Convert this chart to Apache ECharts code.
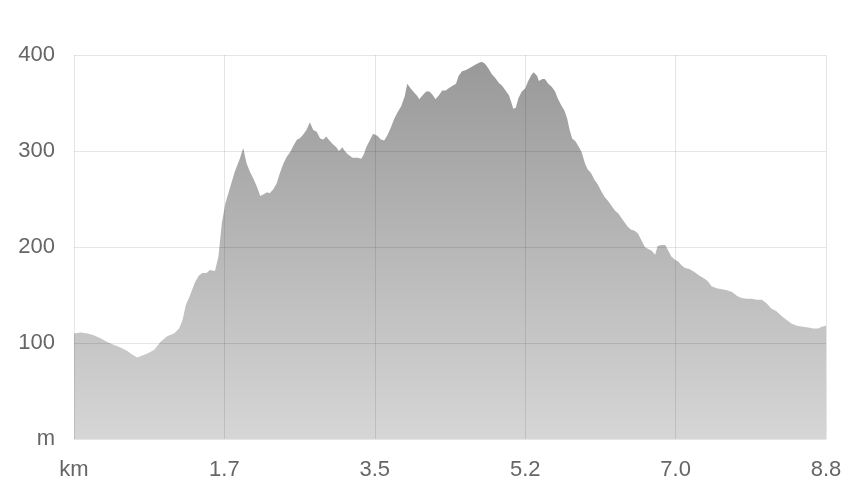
<!DOCTYPE html>
<html>
<head>
<meta charset="utf-8">
<script src="https://cdn.jsdelivr.net/npm/echarts@6/dist/echarts.min.js"></script>
<style>
  html, body { margin: 0; padding: 0; background: #fff; }
  #chart { width: 854px; height: 494px; }
</style>
</head>
<body>
<div id="chart"></div>
<script>
// distance along the route (km) and elevation (m)
const distKm = [
  0.00, 0.08, 0.16, 0.23, 0.31, 0.39, 0.47, 0.55, 0.62, 0.68, 0.74, 0.80, 0.86, 0.94, 1.01, 1.09,
  1.17, 1.23, 1.27, 1.31, 1.35, 1.38, 1.42, 1.46, 1.50, 1.55, 1.59, 1.65, 1.69, 1.73, 1.77, 1.83,
  1.88, 1.94, 1.98, 2.02, 2.06, 2.10, 2.14, 2.18, 2.22, 2.26, 2.29, 2.33, 2.37, 2.41, 2.45, 2.49,
  2.53, 2.57, 2.61, 2.64, 2.68, 2.72, 2.76, 2.80, 2.84, 2.88, 2.92, 2.95, 2.99, 3.03, 3.07, 3.10,
  3.14, 3.16, 3.20, 3.26, 3.32, 3.36, 3.39, 3.42, 3.46, 3.50, 3.52, 3.55, 3.59, 3.63, 3.67, 3.71,
  3.75, 3.79, 3.83, 3.87, 3.90, 3.94, 3.98, 4.02, 4.04, 4.08, 4.12, 4.16, 4.20, 4.23, 4.27, 4.31,
  4.35, 4.38, 4.43, 4.47, 4.50, 4.54, 4.58, 4.62, 4.66, 4.70, 4.74, 4.77, 4.81, 4.85, 4.89, 4.93,
  4.97, 5.01, 5.05, 5.09, 5.12, 5.14, 5.17, 5.20, 5.24, 5.28, 5.31, 5.35, 5.38, 5.42, 5.44, 5.48,
  5.51, 5.55, 5.59, 5.63, 5.66, 5.70, 5.74, 5.77, 5.80, 5.83, 5.87, 5.91, 5.94, 5.98, 6.01, 6.05,
  6.09, 6.13, 6.17, 6.21, 6.25, 6.29, 6.33, 6.37, 6.40, 6.44, 6.48, 6.52, 6.56, 6.60, 6.64, 6.68,
  6.72, 6.76, 6.80, 6.83, 6.87, 6.92, 6.95, 6.99, 7.03, 7.07, 7.11, 7.15, 7.20, 7.26, 7.32, 7.38,
  7.42, 7.46, 7.52, 7.58, 7.64, 7.70, 7.76, 7.81, 7.87, 7.93, 7.99, 8.05, 8.11, 8.16, 8.22, 8.28,
  8.34, 8.40, 8.46, 8.53, 8.61, 8.65, 8.67, 8.71, 8.75, 8.80
];
const elevM = [
  110, 111, 110, 108, 105, 101, 98, 95, 92, 88, 85, 87, 89, 93, 101, 107,
  110, 115, 124, 140, 148, 155, 164, 170, 173, 173, 176, 175, 190, 225, 245, 263,
  278, 292, 303, 287, 278, 271, 263, 253, 255, 257, 256, 260, 266, 277, 287, 294,
  299, 306, 312, 313, 317, 322, 330, 322, 320, 313, 312, 315, 311, 307, 304, 300,
  304, 301, 297, 293, 293, 292, 296, 304, 311, 318, 319, 316, 312, 311, 317, 325,
  334, 341, 347, 357, 370, 365, 361, 357, 354, 358, 362, 362, 358, 354, 358, 363,
  363, 365, 368, 370, 378, 383, 384, 386, 388, 390, 392, 393, 391, 386, 380, 376,
  371, 368, 363, 358, 350, 344, 345, 355, 362, 365, 372, 379, 382, 378, 373, 375,
  375, 370, 367, 362, 355, 348, 342, 334, 322, 313, 310, 304, 299, 287, 281, 277,
  270, 265, 258, 252, 248, 243, 238, 235, 231, 226, 221, 218, 217, 214, 207, 200,
  198, 196, 192, 201, 202, 202, 197, 190, 187, 185, 181, 178, 177, 174, 170, 167,
  164, 159, 157, 156, 155, 153, 149, 147, 146, 146, 145, 145, 141, 136, 133, 128,
  124, 120, 118, 117, 116, 115, 113, 115, 117, 118
];
const xTickLabels = ['km', '1.7', '3.5', '5.2', '7.0', '8.8'];
const yTickLabels = ['m', '100', '200', '300', '400'];

const chart = echarts.init(document.getElementById('chart'));

const labelFont = {
  color: '#666',
  fontSize: 22,
  fontFamily: '"Liberation Sans", Arial, sans-serif'
};

const option = {
  animation: false,
  grid: {
    left: 74,
    right: 28,
    top: 55,
    bottom: 55,
    containLabel: false,
    outerBoundsMode: 'none'
  },
  xAxis: {
    type: 'value',
    min: 0,
    max: 8.8,
    interval: 1.76,
    z: 5,
    axisLine: { show: false },
    axisTick: { show: false },
    axisLabel: {
      ...labelFont,
      margin: 20,
      formatter: (value, index) => xTickLabels[index]
    },
    splitLine: {
      show: true,
      showMinLine: true,
      showMaxLine: true,
      lineStyle: { color: 'rgba(0,0,0,0.1)', width: 1 }
    }
  },
  yAxis: {
    type: 'value',
    min: 0,
    max: 400,
    interval: 100,
    z: 5,
    axisLine: { show: false },
    axisTick: { show: false },
    axisLabel: {
      ...labelFont,
      margin: 19,
      formatter: (value, index) => yTickLabels[index]
    },
    splitLine: {
      show: true,
      showMinLine: true,
      showMaxLine: true,
      lineStyle: { color: 'rgba(0,0,0,0.1)', width: 1 }
    }
  },
  series: [
    {
      name: 'Elevation',
      type: 'line',
      data: distKm.map((d, i) => [d, elevM[i]]),
      showSymbol: false,
      symbol: 'none',
      lineStyle: { width: 0 },
      areaStyle: {
        opacity: 1,
        color: new echarts.graphic.LinearGradient(0, 0, 0, 1, [
          { offset: 0, color: '#999999' },
          { offset: 1, color: '#d6d6d6' }
        ])
      }
    }
  ]
};

chart.setOption(option);
</script>
</body>
</html>
